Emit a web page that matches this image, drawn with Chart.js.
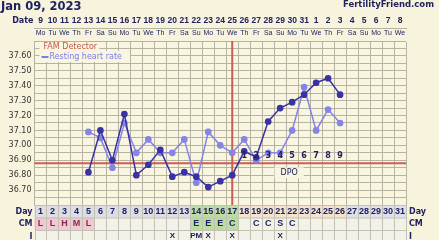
<!DOCTYPE html>
<html>
<head>
<meta charset="utf-8">
<script src="https://cdn.jsdelivr.net/npm/chart.js@4.4.0/dist/chart.umd.min.js"></script>
<style>
html, body { margin: 0; padding: 0; background: #f7f3dc; }
canvas { display: block; }
</style>
</head>
<body>
<canvas id="ffChart" width="439" height="240"></canvas>
<script>
var chartTitle = "Jan 09, 2023";
var siteName = "FertilityFriend.com";
var dateLabels = ["9","10","11","12","13","14","15","16","17","18","19","20","21","22","23","24","25","26","27","28","29","30","31","1","2","3","4","5","6","7","8"];
var weekdayLabels = ["Mo","Tu","We","Th","Fr","Sa","Su","Mo","Tu","We","Th","Fr","Sa","Su","Mo","Tu","We","Th","Fr","Sa","Su","Mo","Tu","We","Th","Fr","Sa","Su","Mo","Tu","We"];
var cycleDays = [1,2,3,4,5,6,7,8,9,10,11,12,13,14,15,16,17,18,19,20,21,22,23,24,25,26,27,28,29,30,31];
var temps = [null,null,null,null,36.82,37.10,36.90,37.21,36.80,36.87,36.97,36.79,36.82,36.79,36.72,36.76,36.80,36.96,36.92,37.16,37.25,37.29,37.34,37.42,37.45,37.34,null,null,null,null,null];
var restingHR = [null,null,null,null,37.09,37.05,36.85,37.15,36.95,37.04,36.95,36.95,37.04,36.75,37.09,37.00,36.95,37.04,36.90,36.95,36.95,37.10,37.39,37.10,37.24,37.15,null,null,null,null,null];
var cmCodes = ["L","L","H","M","L","","","","","","","","","E","E","E","C","","C","C","S","C","","","","","","","","",""];
var intercourse = ["","","","","","","","","","","","X","","PM","X","","X","","","","X","","","","","","","","","",""];
var yTickLabels = ["36.70","36.80","36.90","37.00","37.10","37.20","37.30","37.40","37.50","37.60"];
var dpoLabels = ["1","2","3","4","5","6","7","8","9"];
var coverline = 36.88;
var ovulationDay = 17;
var flowDays = [1,2,3,4,5];
var fertileDays = [14,15,16,17];
var lutealDays = [18,19,20,21,22,23,24,25,26];

var navy = "#1f2360";
var gridColor = "#b7b3a3";
var redLine = "#cf5b52";

var ffExtras = {
  id: "ffExtras",
  beforeDraw: function (chart) {
    var ctx = chart.ctx, a = chart.chartArea;
    ctx.save();
    ctx.fillStyle = "#f8f5e1";
    ctx.fillRect(a.left, a.top, a.right - a.left, a.bottom - a.top);
    ctx.restore();
  },
  beforeDatasetsDraw: function (chart) {
    var ctx = chart.ctx, a = chart.chartArea;
    var x = chart.scales.x, y = chart.scales.y;
    ctx.save();
    ctx.strokeStyle = redLine;
    ctx.lineWidth = 2;
    var cy = y.getPixelForValue(coverline);
    ctx.beginPath();
    ctx.moveTo(a.left, cy);
    ctx.lineTo(a.right, cy);
    ctx.stroke();
    var ox = x.getPixelForValue(ovulationDay - 1);
    ctx.beginPath();
    ctx.moveTo(ox, a.top);
    ctx.lineTo(ox, a.bottom);
    ctx.stroke();
    ctx.restore();
  },
  afterDatasetsDraw: function (chart) {
    var ctx = chart.ctx, a = chart.chartArea;
    var x = chart.scales.x, y = chart.scales.y;
    ctx.save();
    // legend inside plot
    ctx.font = "8px 'DejaVu Sans'";
    ctx.textBaseline = "middle";
    var t1 = "FAM Detector", t2 = "Resting heart rate";
    var w1 = ctx.measureText(t1).width, w2 = ctx.measureText(t2).width;
    ctx.fillStyle = "#f8f5e1";
    ctx.fillRect(a.left + 5, a.top + 1, w1 + 6, 10);
    ctx.fillRect(a.left + 5, a.top + 10, w2 + 18, 11);
    ctx.fillStyle = "#c4584e";
    ctx.fillText(t1, a.left + 9, a.top + 6);
    ctx.fillStyle = "#7f7de2";
    ctx.fillRect(a.left + 7, a.top + 15, 7, 2);
    ctx.fillText(t2, a.left + 15, a.top + 15.5);
    // DPO numbers
    var cy = y.getPixelForValue(coverline);
    ctx.font = "bold 8px 'DejaVu Sans'";
    ctx.textAlign = "center";
    ctx.fillStyle = navy;
    for (var i = 0; i < lutealDays.length; i++) {
      ctx.fillText(dpoLabels[i], x.getPixelForValue(lutealDays[i] - 1), cy - 7);
    }
    var dx = x.getPixelForValue(lutealDays[4] - 1) - 3;
    ctx.font = "8px 'DejaVu Sans'";
    var dw = ctx.measureText("DPO").width;
    ctx.fillStyle = "#f8f5e1";
    ctx.fillRect(dx - dw / 2 - 6, cy + 4, dw + 12, 11);
    ctx.fillStyle = navy;
    ctx.fillText("DPO", dx, cy + 9.5);
    ctx.restore();
  },
  afterDraw: function (chart) {
    var ctx = chart.ctx, a = chart.chartArea;
    var x = chart.scales.x;
    ctx.save();
    // header
    ctx.textBaseline = "middle";
    ctx.fillStyle = navy;
    ctx.font = "bold 11.5px 'DejaVu Sans'";
    ctx.textAlign = "left";
    ctx.fillText(chartTitle, 1, 7);
    ctx.font = "bold 8.5px 'DejaVu Sans'";
    ctx.textAlign = "right";
    ctx.fillText(siteName, 434, 5);
    ctx.font = "bold 8px 'DejaVu Sans'";
    ctx.fillText("Date", a.left - 1, 21);
    // bottom rows
    var colW = (a.right - a.left) / cycleDays.length;
    var rows = [a.bottom, a.bottom + 12.5, a.bottom + 25, a.bottom + 37];
    for (var i = 0; i < cycleDays.length; i++) {
      var d = cycleDays[i];
      var cx = x.getPixelForValue(i);
      var left = cx - colW / 2;
      var dayFill = "#dcdde5";
      if (fertileDays.indexOf(d) >= 0) dayFill = "#b9dea0";
      else if (lutealDays.indexOf(d) >= 0) dayFill = "#f6e3cb";
      else if (d > lutealDays[lutealDays.length - 1]) dayFill = "#dee0ea";
      var cmFill = "#f3f2e8";
      if (flowDays.indexOf(d) >= 0) cmFill = "#f0c9d3";
      else if (fertileDays.indexOf(d) >= 0) cmFill = "#b9dea0";
      var fills = [dayFill, cmFill, "#f3f2e8"];
      for (var r = 0; r < 3; r++) {
        ctx.fillStyle = fills[r];
        ctx.fillRect(left, rows[r], colW, rows[r + 1] - rows[r]);
        ctx.strokeStyle = "#c3c0b4";
        ctx.lineWidth = 1;
        ctx.strokeRect(Math.round(left) + 0.5, rows[r] + 0.5, colW, rows[r + 1] - rows[r]);
      }
      ctx.textAlign = "center";
      ctx.fillStyle = navy;
      ctx.font = "bold 9px 'Liberation Sans'";
      ctx.fillText(String(d), cx, rows[0] + 6.5);
      ctx.fillStyle = flowDays.indexOf(d) >= 0 ? "#8c2848" : navy;
      ctx.fillText(cmCodes[i], cx, rows[1] + 6.5);
      ctx.fillStyle = navy;
      ctx.font = "bold 8px 'Liberation Sans'";
      ctx.fillText(intercourse[i], cx, rows[2] + 6);
    }
    ctx.font = "bold 8px 'DejaVu Sans'";
    ctx.fillStyle = navy;
    var names = ["Day", "CM", "I"];
    for (var k = 0; k < 3; k++) {
      var my = rows[k] + 6.5;
      ctx.textAlign = "right";
      ctx.fillText(names[k], a.left - 2, my);
      ctx.textAlign = "left";
      ctx.fillText(names[k], a.right + 3, my);
    }
    ctx.restore();
  }
};

new Chart(document.getElementById("ffChart"), {
  type: "line",
  data: {
    labels: dateLabels,
    datasets: [
      {
        label: "BBT",
        data: temps,
        borderColor: "#3a32a4",
        backgroundColor: "#3a32a4",
        borderWidth: 1.5,
        pointRadius: 2.6,
        pointHoverRadius: 2.6,
        tension: 0
      },
      {
        label: "Resting heart rate",
        data: restingHR,
        borderColor: "#8684e6",
        backgroundColor: "#8684e6",
        borderWidth: 1.5,
        pointRadius: 2.6,
        pointHoverRadius: 2.6,
        tension: 0
      }
    ]
  },
  options: {
    responsive: false,
    animation: false,
    devicePixelRatio: 1,
    layout: { padding: { top: 15, right: 33, bottom: 35, left: 0 } },
    plugins: { legend: { display: false }, tooltip: { enabled: false } },
    scales: {
      x: {
        type: "category",
        position: "top",
        weight: 1,
        offset: true,
        labels: dateLabels,
        grid: { offset: true, color: gridColor, drawTicks: false },
        border: { color: gridColor },
        ticks: { autoSkip: false, maxRotation: 0, padding: 2, color: navy, font: { family: "Liberation Sans", size: 8.5, weight: "bold" } },
        afterFit: function (s) { s.height = 13; }
      },
      xDow: {
        type: "category",
        position: "top",
        weight: 0,
        offset: true,
        labels: weekdayLabels,
        grid: { display: false, drawTicks: false },
        border: { display: false },
        ticks: { autoSkip: false, maxRotation: 0, padding: 4, color: navy, font: { family: "Liberation Sans", size: 7 } },
        afterFit: function (s) { s.height = 13; }
      },
      y: {
        min: 36.6,
        max: 37.7,
        grid: { color: gridColor, drawTicks: false },
        border: { color: gridColor },
        ticks: {
          stepSize: 0.05,
          autoSkip: false,
          padding: 3,
          color: "#333333",
          font: { family: "DejaVu Sans", size: 8 },
          callback: function (v) {
            var s = Number(v).toFixed(2);
            return yTickLabels.indexOf(s) >= 0 ? s : "";
          }
        },
        afterFit: function (s) { s.width = 34.5; }
      }
    }
  },
  plugins: [ffExtras]
});
</script>
</body>
</html>
